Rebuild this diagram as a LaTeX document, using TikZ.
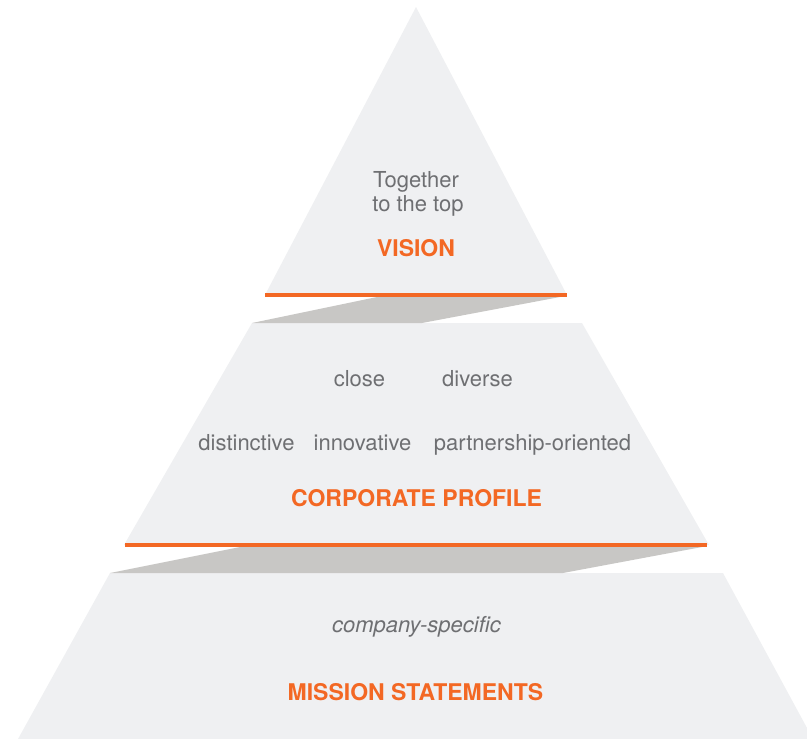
\documentclass[tikz,border=0pt]{standalone}
\usepackage{fontspec}
\setmainfont{TeX Gyre Heros}
\definecolor{tier}{RGB}{239,240,242}
\definecolor{rimgrey}{RGB}{200,199,197}
\definecolor{accent}{RGB}{243,104,36}
\definecolor{txt}{RGB}{110,111,114}
\tikzset{
	word/.style={anchor=base, text=txt, inner sep=0pt, font=\fontsize{22}{26}\selectfont},
	title/.style={anchor=base, text=accent, inner sep=0pt, font=\fontsize{23}{27}\selectfont\bfseries},
	rim/.style={draw=accent, line width=3.5pt}
}
\begin{document}
\begin{tikzpicture}[x=1pt, y=-1pt]
		\useasboundingbox (0,0) rectangle (807,739);
		% the three tiers
		\fill[tier] (416,7)--(567,295)--(265,295)--cycle;
		\fill[tier] (252,323)--(582,323)--(709,545)--(124,545)--cycle;
		\fill[tier] (110,573)--(723,573)--(813,739)--(18,739)--cycle;
		% shadows below the rims
		\fill[rimgrey] (377,297)--(560,297)--(422,323)--(252,323)--cycle;
		\fill[rimgrey] (240,547)--(702,547)--(563,573)--(110,573)--cycle;
		% rims
		\path (265,295) coordinate (A1) (567,295) coordinate (A2);
		\path (125,545) coordinate (B1) (707,545) coordinate (B2);
		\draw[rim] (A1)--(A2);
		\draw[rim] (B1)--(B2);
		% top
		\node[word] (top1) at (416,187) {Together};
		\node[word] (top2) at (418,211) {to the top};
		\node[title] (vision) at (416,256) {VISION};
		% middle
		\node[word] (close) at (359.5,386.5) {close};
		\node[word] (diverse) at (477.5,386.5) {diverse};
		\node[word] (distinctive) at (246.5,450) {distinctive};
		\node[word] (innovative) at (362.5,450) {innovative};
		\node[word] (partner) at (532.5,450) {partnership-oriented};
		\node[title] (profile) at (416.5,506.5) {CORPORATE PROFILE};
		% bottom
		\node[word, font=\fontsize{22}{26}\selectfont\itshape] (specific) at (416.5,632) {company-specific};
		\node[title] (mission) at (415.5,700) {MISSION STATEMENTS};
	\end{tikzpicture}
\end{document}
